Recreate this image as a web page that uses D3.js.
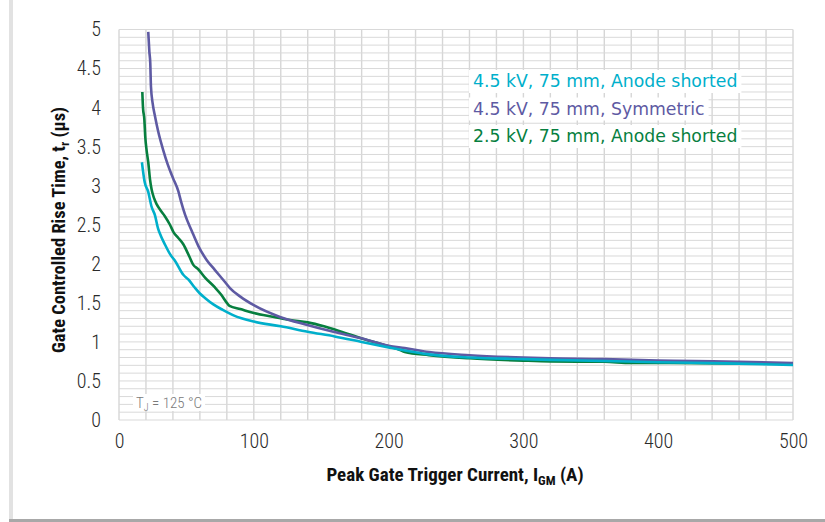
<!DOCTYPE html>
<html>
<head>
<meta charset="utf-8">
<script src="https://cdn.jsdelivr.net/npm/d3@7"></script>
<style>
  html, body { margin: 0; padding: 0; background: #fff; }
  svg { display: block; }
  .cond { font-family: "Liberation Sans Narrow", "Roboto Condensed", "Arial Narrow", "Roboto", "Liberation Sans", sans-serif; font-stretch: condensed; }
</style>
</head>
<body>
<svg id="chart" width="825" height="522"></svg>
<script>
// ---- data ----
const seriesNames = ["4.5 kV, 75 mm, Anode shorted", "4.5 kV, 75 mm, Symmetric", "2.5 kV, 75 mm, Anode shorted"];
const seriesColors = ["#00AFCB", "#5E5AA3", "#077F3F"];

const cyanX = [17, 19, 21.7, 24, 26.7, 29, 31, 34, 38, 41.5, 47.7, 51.4, 56, 60, 64, 70, 77, 85, 100, 120, 140, 160, 180, 200, 212, 230, 260, 300, 320, 360, 400, 450, 500];
const cyanY = [3.30, 3.05, 2.92, 2.74, 2.62, 2.45, 2.36, 2.25, 2.12, 2.04, 1.86, 1.80, 1.70, 1.62, 1.56, 1.48, 1.41, 1.34, 1.26, 1.20, 1.13, 1.07, 1.00, 0.93, 0.89, 0.84, 0.80, 0.78, 0.77, 0.755, 0.74, 0.725, 0.705];

const purpleX = [21.7, 22.5, 23.2, 23.7, 25, 26.7, 29, 32.9, 36, 40, 44, 46, 49, 54, 58.8, 65, 71.2, 78, 82.3, 90, 100, 119.4, 139, 159, 179, 200, 212, 230, 260, 300, 320, 360, 400, 450, 500];
const purpleY = [4.97, 4.72, 4.57, 4.27, 4.05, 3.89, 3.70, 3.45, 3.28, 3.10, 2.93, 2.80, 2.63, 2.42, 2.23, 2.05, 1.92, 1.78, 1.69, 1.58, 1.47, 1.32, 1.22, 1.13, 1.05, 0.95, 0.92, 0.87, 0.83, 0.80, 0.79, 0.78, 0.76, 0.75, 0.73];

const greenX = [17.3, 17.8, 18.8, 19.5, 20.5, 21.7, 23, 24.2, 26, 28, 31, 34, 37.8, 40.3, 44, 47.7, 52, 55, 58.8, 64, 71, 76, 80, 82, 90, 100, 115, 127, 140, 152, 165, 179, 195, 208, 212, 230, 260, 300, 320, 360, 380, 400, 450, 500];
const greenY = [4.20, 4.00, 3.85, 3.62, 3.45, 3.30, 3.08, 2.95, 2.84, 2.76, 2.68, 2.61, 2.50, 2.41, 2.33, 2.25, 2.10, 1.99, 1.93, 1.82, 1.70, 1.60, 1.50, 1.46, 1.42, 1.37, 1.32, 1.28, 1.25, 1.20, 1.13, 1.05, 0.97, 0.90, 0.87, 0.83, 0.79, 0.76, 0.75, 0.745, 0.73, 0.73, 0.725, 0.72];

const xTicks = [0, 100, 200, 300, 400, 500];
const yTicks = [0, 0.5, 1, 1.5, 2, 2.5, 3, 3.5, 4, 4.5, 5];
const yTickLabels = ["0", "0.5", "1", "1.5", "2", "2.5", "3", "3.5", "4", "4.5", "5"];

// ---- layout ----
const svg = d3.select("#chart");
const pLeft = 119, pRight = 793, pTop = 29.5, pBottom = 420;

// frame decorations
svg.append("rect").attr("x", 9).attr("y", 0).attr("width", 4).attr("height", 522).attr("fill", "#e2e2e2");
svg.append("rect").attr("x", 9).attr("y", 519).attr("width", 816).attr("height", 3).attr("fill", "#a8a8a8");

const x = d3.scaleLinear().domain([0, 500]).range([pLeft, pRight]);
const y = d3.scaleLinear().domain([0, 5]).range([pBottom, pTop]);

// grid
const grid = svg.append("g");
grid.selectAll("line.v").data(d3.range(0, 501, 20)).enter().append("line")
  .attr("x1", d => x(d)).attr("x2", d => x(d)).attr("y1", pTop).attr("y2", pBottom)
  .attr("stroke", "#d6d6d6").attr("stroke-width", 1.4);
grid.selectAll("line.h").data(d3.range(0, 51, 1)).enter().append("line")
  .attr("x1", pLeft).attr("x2", pRight).attr("y1", d => y(d / 10)).attr("y2", d => y(d / 10))
  .attr("stroke", "#d9d9d9").attr("stroke-width", 1);

// axes (labels only)
const xAxis = d3.axisBottom(x).tickValues(xTicks).tickSize(0).tickPadding(0);
const gx = svg.append("g").attr("transform", `translate(0,${pBottom})`).call(xAxis);
gx.select(".domain").remove();
gx.attr("font-family", null).attr("font-size", null);
gx.selectAll("text").attr("class", "cond").attr("dy", null).attr("y", 28)
  .style("font-size", "20px").style("font-weight", 300).attr("fill", "#2a2a2a");

const yAxis = d3.axisLeft(y).tickValues(yTicks).tickFormat((d, i) => yTickLabels[i]).tickSize(0).tickPadding(0);
const gy = svg.append("g").attr("transform", `translate(101,0)`).call(yAxis);
gy.select(".domain").remove();
gy.attr("font-family", null).attr("font-size", null);
gy.selectAll("text").attr("class", "cond").attr("x", 0)
  .style("font-size", "20px").style("font-weight", 300).attr("fill", "#2a2a2a");

// series
const series = [
  { name: seriesNames[2], color: seriesColors[2], xs: greenX, ys: greenY },
  { name: seriesNames[1], color: seriesColors[1], xs: purpleX, ys: purpleY },
  { name: seriesNames[0], color: seriesColors[0], xs: cyanX, ys: cyanY }
];
const line = d3.line().x(d => x(d[0])).y(d => y(d[1])).curve(d3.curveMonotoneX);
series.forEach(s => {
  svg.append("path").datum(s.xs.map((v, i) => [v, s.ys[i]]))
    .attr("d", line).attr("fill", "none").attr("stroke", s.color)
    .attr("stroke-width", 2.6).attr("stroke-linejoin", "round").attr("stroke-linecap", "butt");
});

// legend text with white backgrounds
const legendY = [87, 114.5, 142];
seriesNames.forEach((n, i) => {
  const t = svg.append("text").attr("x", 473).attr("y", legendY[i])
    .attr("font-family", "'DejaVu Sans', sans-serif").attr("font-size", 17.3)
    .attr("fill", seriesColors[i]).text(n);
  const bb = t.node().getBBox();
  svg.insert("rect", () => t.node()).attr("x", bb.x - 4).attr("y", legendY[i] - 17).attr("width", bb.width + 8).attr("height", 23).attr("fill", "#fff");
});

// T_J annotation
const tj = svg.append("text").attr("class", "cond").attr("x", 136).attr("y", 407.5)
  .attr("font-size", 15).style("font-weight", 300).attr("fill", "#7a7a7a");
tj.append("tspan").text("T");
tj.append("tspan").attr("dy", 3).attr("font-size", 10).text("J");
tj.append("tspan").attr("dy", -3).text(" = 125 °C");
const tb = tj.node().getBBox();
svg.insert("rect", () => tj.node()).attr("x", tb.x - 3).attr("y", 394).attr("width", tb.width + 6).attr("height", 17).attr("fill", "#fff");

// axis titles
const xt = svg.append("text").attr("class", "cond").attr("x", 455).attr("y", 481)
  .attr("text-anchor", "middle").attr("font-size", 19).attr("font-weight", "bold").attr("fill", "#111");
xt.append("tspan").text("Peak Gate Trigger Current, I");
xt.append("tspan").attr("dy", 4).attr("font-size", 13).text("GM");
xt.append("tspan").attr("dy", -4).text(" (A)");

const yt = svg.append("text").attr("class", "cond")
  .attr("transform", "translate(65,230) rotate(-90)")
  .attr("text-anchor", "middle").attr("font-size", 18.5).attr("font-weight", "bold").attr("fill", "#111");
yt.append("tspan").text("Gate Controlled Rise Time, t");
yt.append("tspan").attr("dy", 4).attr("font-size", 13).text("r");
yt.append("tspan").attr("dy", -4).text(" (µs)");
</script>
</body>
</html>
